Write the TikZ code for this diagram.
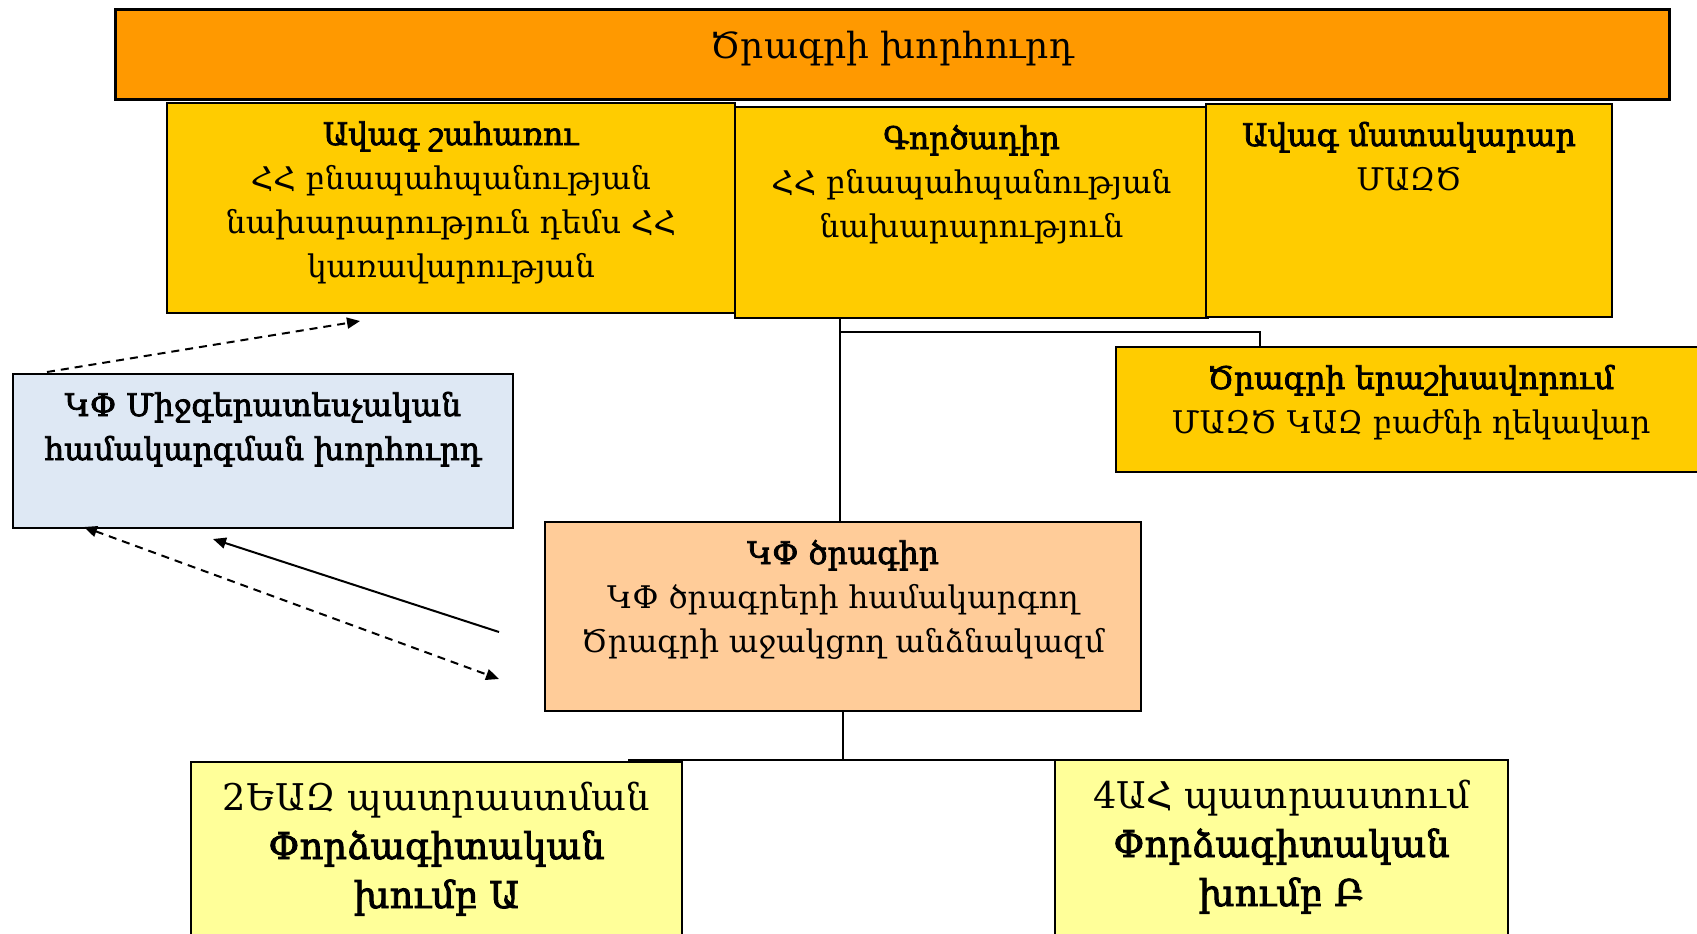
\documentclass[tikz,border=0pt]{standalone}
\usepackage{fontspec}
\setmainfont{DejaVu Serif}[BoldFont=DejaVu Serif, BoldFeatures={FakeBold=2.5}]
\usetikzlibrary{arrows.meta}

\definecolor{councilorange}{HTML}{FF9900}
\definecolor{boardgold}{HTML}{FFCC00}
\definecolor{imccblue}{HTML}{DEE8F4}
\definecolor{ccpeach}{HTML}{FFCC99}
\definecolor{grouplemon}{HTML}{FFFF99}

% width, height, first baseline, lines
\newcommand{\boxtext}[4]{\parbox[t][#2][t]{#1}{\centering\rule{0pt}{#3}#4}}

\tikzset{
  orgbox/.style={draw, line width=1pt, inner sep=0pt, anchor=north west,
    font=\fontsize{15.6pt}{22pt}\selectfont},
  groupbox/.style={orgbox, fill=grouplemon, font=\fontsize{18.4pt}{24.5pt}\selectfont},
  link/.style={line width=1pt},
  dashlink/.style={link, dash pattern=on 4pt off 3pt},
}

\begin{document}
\begin{tikzpicture}[x=0.5pt, y=-0.5pt, >={Triangle[length=6.5pt, width=5.5pt]}]
  \useasboundingbox (0,0) rectangle (1697,933);
  \clip (0,0) rectangle (1697,933);

  \node[orgbox, fill=councilorange, line width=1.3pt, font=\fontsize{18pt}{22pt}\selectfont] (council) at (114,8)
    {\boxtext{777pt}{45pt}{24.5pt}{Ծրագրի խորհուրդ}};

  \node[orgbox, fill=boardgold] (senior) at (166,102)
    {\boxtext{284pt}{105pt}{21pt}{\textbf{Ավագ շահառու}\\ՀՀ բնապահպանության\\նախարարություն դեմս ՀՀ\\կառավարության}};
  \node[orgbox, fill=boardgold] (exec) at (734,106)
    {\boxtext{236.5pt}{105.5pt}{21pt}{\textbf{Գործադիր}\\ՀՀ բնապահպանության\\նախարարություն}};
  \node[orgbox, fill=boardgold] (supplier) at (1205,103)
    {\boxtext{203pt}{106.5pt}{21pt}{\textbf{Ավագ մատակարար}\\ՄԱԶԾ}};

  \node[orgbox, fill=boardgold] (assure) at (1115,346)
    {\boxtext{295pt}{62.5pt}{21pt}{\textbf{Ծրագրի երաշխավորում}\\ՄԱԶԾ ԿԱԶ բաժնի ղեկավար}};

  \node[orgbox, fill=imccblue] (imcc) at (12,373)
    {\boxtext{250pt}{77pt}{21pt}{\bfseries ԿՓ Միջգերատեսչական\\համակարգման խորհուրդ}};

  \node[orgbox, fill=ccpeach] (cc) at (544,521)
    {\boxtext{298pt}{94.5pt}{21pt}{\textbf{ԿՓ ծրագիր}\\ԿՓ ծրագրերի համակարգող\\Ծրագրի աջակցող անձնակազմ}};

  \node[groupbox] (grpA) at (190,761)
    {\boxtext{245.5pt}{95pt}{24pt}{2ԵԱԶ պատրաստման\\\textbf{Փորձագիտական}\\\textbf{խումբ Ա}}};
  \node[groupbox] (grpB) at (1054,759)
    {\boxtext{226.5pt}{95pt}{24pt}{4ԱՀ պատրաստում\\\textbf{Փորձագիտական}\\\textbf{խումբ Բ}}};

  \coordinate (trunk) at ([xshift=-1.5pt]cc.north);
  \coordinate (branch) at (trunk |- 0,332);
  \coordinate (assureTap) at (1260,346);
  \draw[link] (trunk) -- (trunk |- exec.south);
  \draw[link] (branch) -| (assureTap);

  \coordinate (busL) at (628,760);
  \coordinate (busR) at (1070,760);
  \draw[link] (cc.south) -- (cc.south |- busL);
  \draw[link] (busL) -- (busR);

  \coordinate (reportTail) at (47,372);
  \coordinate (reportHead) at (360,321);
  \draw[dashlink, ->] (reportTail) -- (reportHead);
  \coordinate (feedTail) at (499,632);
  \coordinate (feedHead) at (213,539);
  \draw[link, ->] (feedTail) -- (feedHead);
  \coordinate (swapA) at (84,527);
  \coordinate (swapB) at (499,679);
  \draw[dashlink, <->] (swapA) -- (swapB);
\end{tikzpicture}
\end{document}
